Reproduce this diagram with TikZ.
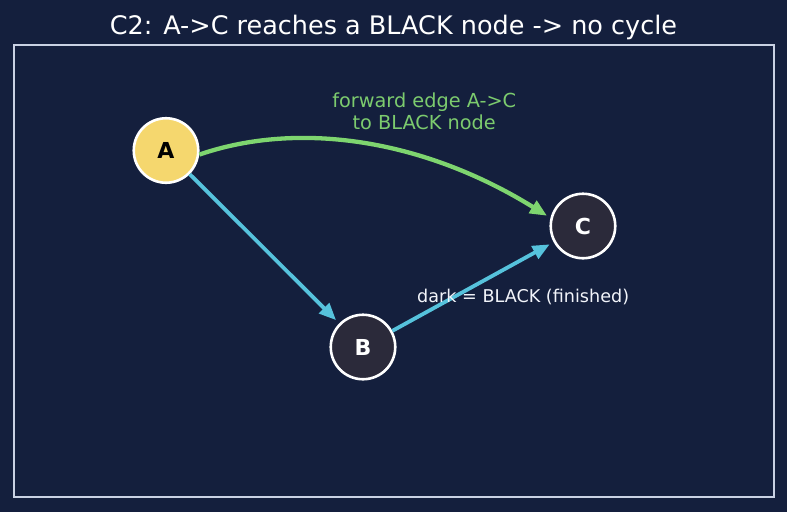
\documentclass[tikz,border=0pt]{standalone}
\usepackage{fontspec}
\setmainfont{DejaVu Sans}
\usetikzlibrary{arrows.meta}
\definecolor{bg}{HTML}{141F3D}
\definecolor{frame}{HTML}{C9D1E3}
\definecolor{ayel}{HTML}{F5D76E}
\definecolor{dnode}{HTML}{2B2A3A}
\definecolor{cyanedge}{HTML}{56C2DC}
\definecolor{greenedge}{HTML}{7ED56F}
\definecolor{greentext}{HTML}{7CCB6E}
\definecolor{txtwhite}{HTML}{F2F4FA}
\tikzset{
  vnode/.style={circle, draw=white, line width=2.6pt, minimum size=64.5pt, inner sep=0pt,
    font=\fontsize{22}{26}\selectfont\bfseries},
  treeedge/.style={draw=cyanedge, line width=3.8pt, shorten >=4.5pt,
    -{Triangle[length=17pt,width=14pt]}},
  fwdedge/.style={draw=greenedge, line width=4.3pt, shorten >=4pt,
    -{Triangle[length=17pt,width=14pt]}},
}
\begin{document}
\begin{tikzpicture}[x=1pt,y=-1pt]
\useasboundingbox (0,0) rectangle (787,512);
\fill[bg] (0,0) rectangle (787,512);
\draw[frame, line width=1.8pt] (14,45) rectangle (774,497);
\node[text=white, font=\fontsize{25.5}{30}\selectfont] (title) at (393.5,27.5) {C2: A->C reaches a BLACK node -> no cycle};
\node[vnode, fill=ayel, text=black] (A) at (166,150.5) {A};
\node[vnode, fill=dnode, text=white] (B) at (363,347) {B};
\node[vnode, fill=dnode, text=white] (C) at (583,226) {C};
\draw[treeedge] (A) -- (B);
\draw[treeedge] (B) -- (C);
\draw[fwdedge] (A.-7) .. controls (300,120) and (425,140) .. (C.166);
\node[text=greentext, align=center, font=\fontsize{19.3}{21.5}\selectfont] (fl) at (424.2,111.5) {forward edge A->C\\to BLACK node};
\node[text=txtwhite, anchor=west, inner sep=0pt, font=\fontsize{17.6}{21}\selectfont] (dl) at (417,297) {dark = BLACK (finished)};
\end{tikzpicture}
\end{document}
